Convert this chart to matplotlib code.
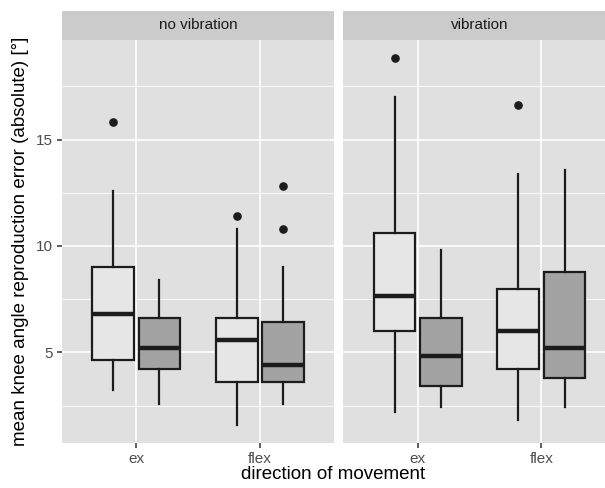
import matplotlib
matplotlib.use("Agg")
import matplotlib.pyplot as plt

plt.rcParams['font.family'] = ['Liberation Sans', 'DejaVu Sans']

facets = ["no vibration", "vibration"]
directions = ["ex", "flex"]

# summary stats per facet -> per direction -> [light group, dark group]
whislo = {"no vibration": {"ex": [3.21, 2.59], "flex": [1.60, 2.59]},
          "vibration":    {"ex": [2.20, 2.43], "flex": [1.80, 2.43]}}
q1 =     {"no vibration": {"ex": [4.62, 4.20], "flex": [3.61, 3.61]},
          "vibration":    {"ex": [6.00, 3.40], "flex": [4.20, 3.80]}}
med =    {"no vibration": {"ex": [6.82, 5.22], "flex": [5.60, 4.41]},
          "vibration":    {"ex": [7.63, 4.81], "flex": [6.00, 5.20]}}
q3 =     {"no vibration": {"ex": [9.00, 6.60], "flex": [6.60, 6.41]},
          "vibration":    {"ex": [10.61, 6.60], "flex": [8.00, 8.79]}}
whishi = {"no vibration": {"ex": [12.60, 8.39], "flex": [10.80, 9.00]},
          "vibration":    {"ex": [17.00, 9.80], "flex": [13.40, 13.59]}}
fliers = {"no vibration": {"ex": [[15.81], []], "flex": [[11.41], [12.82, 10.80]]},
          "vibration":    {"ex": [[18.82], []], "flex": [[16.61], []]}}

fills = ["#E6E6E6", "#A3A3A3"]
yticks = [5, 10, 15]

W, H = 605, 488
fig = plt.figure(figsize=(W / 100, H / 100), dpi=100)

# y limits with ggplot-like 5% expansion
allv = []
for f in facets:
    for d in directions:
        for g in range(2):
            allv += [whislo[f][d][g], whishi[f][d][g]] + fliers[f][d][g]
lo, hi = min(allv), max(allv)
r = hi - lo
ylim = (lo - 0.05 * r, hi + 0.05 * r)

panel_lefts = [62, 343.5]
pw = 272
ptop, pbot = 40, 443
strip_top = 10.5

line_c = "#1C1C1C"
for i, f in enumerate(facets):
    L = panel_lefts[i]
    ax = fig.add_axes([L / W, (H - pbot) / H, pw / W, (pbot - ptop) / H])
    ax.set_facecolor("#E0E0E0")
    ax.set_xlim(0.4, 2.6)
    ax.set_ylim(*ylim)
    for y in [2.5, 7.5, 12.5, 17.5]:
        ax.axhline(y, color="white", lw=0.6, zorder=0)
    for y in yticks:
        ax.axhline(y, color="white", lw=1.2, zorder=0)
    for x in [1, 2]:
        ax.axvline(x, color="white", lw=1.2, zorder=0)
    stats, pos, cols = [], [], []
    for j, d in enumerate(directions):
        for g in range(2):
            stats.append(dict(whislo=whislo[f][d][g], q1=q1[f][d][g], med=med[f][d][g],
                              q3=q3[f][d][g], whishi=whishi[f][d][g], fliers=fliers[f][d][g]))
            pos.append(j + 1 + (-0.1875 if g == 0 else 0.1875))
            cols.append(fills[g])
    bp = ax.bxp(stats, positions=pos, widths=0.3375, patch_artist=True, showcaps=False,
                boxprops=dict(edgecolor=line_c, linewidth=1.6),
                whiskerprops=dict(color=line_c, linewidth=1.6),
                medianprops=dict(color=line_c, linewidth=3.2, solid_capstyle="butt"),
                flierprops=dict(marker="o", markerfacecolor=line_c, markeredgecolor=line_c,
                                markersize=5.2), manage_ticks=False)
    for p, c in zip(bp["boxes"], cols):
        p.set_facecolor(c)
        p.set_zorder(2)
    for s in ax.spines.values():
        s.set_visible(False)
    ax.set_xticks([1, 2])
    ax.set_xticklabels(directions)
    ax.tick_params(axis="x", colors="#333333", length=3.5, width=1.1, labelcolor="#4D4D4D",
                   labelsize=11, pad=3)
    if i == 0:
        ax.set_yticks(yticks)
        ax.set_yticklabels([str(v) for v in yticks])
        ax.tick_params(axis="y", colors="#333333", length=3.5, width=1.1, labelcolor="#4D4D4D",
                       labelsize=11, pad=3)
        ax.set_ylabel("mean knee angle reproduction error (absolute) [°]", fontsize=13.5,
                      color="black", labelpad=5)
    else:
        ax.set_yticks(yticks)
        ax.tick_params(axis="y", length=0, labelleft=False)
    # strip
    sax = fig.add_axes([L / W, (H - ptop) / H, pw / W, (ptop - strip_top) / H])
    sax.set_facecolor("#CBCBCB")
    sax.set_xticks([]); sax.set_yticks([])
    for s in sax.spines.values():
        s.set_visible(False)
    sax.text(0.5, 0.5, f, ha="center", va="center", fontsize=11, color="#1A1A1A",
             transform=sax.transAxes)

fig.text((62 + 604) / 2 / W, 5 / H, "direction of movement", ha="center", va="bottom",
         fontsize=13.5, color="black")

fig.savefig("out.png", dpi=100)
